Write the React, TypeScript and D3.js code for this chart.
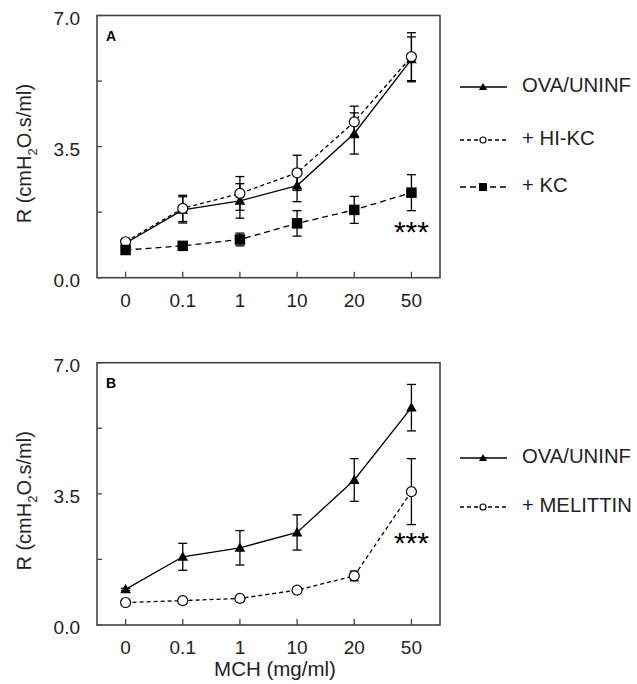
import React from "react";
import * as d3 from "d3";

const doses = ["0", "0.1", "1", "10", "20", "50"];
const yTicks = [0, 1.75, 3.5, 5.25, 7];
const yTickLabels = ["0.0", "", "3.5", "", "7.0"];

// Panel A
const aOvaMean = [0.92, 1.81, 2.05, 2.46, 3.85, 5.83];
const aOvaErr = [0.05, 0.35, 0.46, 0.43, 0.55, 0.6];
const aHiMean = [0.96, 1.85, 2.25, 2.8, 4.16, 5.9];
const aHiErr = [0.05, 0.35, 0.45, 0.47, 0.42, 0.64];
const aKcMean = [0.74, 0.85, 1.02, 1.45, 1.81, 2.27];
const aKcErr = [0.04, 0.05, 0.17, 0.34, 0.36, 0.48];

// Panel B
const bOvaMean = [0.95, 1.82, 2.06, 2.47, 3.87, 5.8];
const bOvaErr = [0.03, 0.36, 0.46, 0.47, 0.57, 0.62];
const bMelMean = [0.6, 0.65, 0.71, 0.93, 1.31, 3.56];
const bMelErr = [0.02, 0.03, 0.04, 0.05, 0.13, 0.88];

const legendA = ["OVA/UNINF", "+ HI-KC", "+ KC"];
const legendB = ["OVA/UNINF", "+ MELITTIN"];

type Series = {
  mean: number[];
  err: number[];
  marker: "tri" | "circle" | "square";
  dash: string;
  label: string;
};

const FONT = "Arial, 'Liberation Sans', sans-serif";
const FRAME = "#444";

function Marker({ type, x, y, s }: { type: string; x: number; y: number; s: number }) {
  if (type === "tri") {
    const sym = d3.symbol(d3.symbolTriangle, s * s * 0.45)();
    return <path d={sym as string} transform={`translate(${x},${y + s * 0.08})`} fill="#000" />;
  }
  if (type === "square") {
    return <rect x={x - s / 2} y={y - s / 2} width={s} height={s} fill="#000" />;
  }
  return <circle cx={x} cy={y} r={s / 2} fill="#fff" stroke="#000" strokeWidth={1.2} />;
}

function Panel({
  top,
  bottom,
  series,
  letter,
  stars,
  legendRows,
  showXTitle,
}: {
  top: number;
  bottom: number;
  series: Series[];
  letter: string;
  stars: { dose: string; value: number };
  legendRows: number[];
  showXTitle: boolean;
}) {
  const left = 97;
  const right = 440;
  const x = d3.scalePoint<string>().domain(doses).range([left, right]).padding(0.5);
  const y = d3.scaleLinear().domain([0, 7]).range([bottom, top]);
  const line = d3
    .line<number>()
    .x((_, i) => x(doses[i]) as number)
    .y((d) => y(d));
  return (
    <g>
      {series.map((s, si) =>
        s.mean.map((m, i) => {
          const cx = x(doses[i]) as number;
          const y1 = y(m + s.err[i]);
          const y2 = y(m - s.err[i]);
          return (
            <g key={`e${si}-${i}`} stroke="#000" strokeWidth={1.3}>
              <line x1={cx} x2={cx} y1={y1} y2={y2} />
              <line x1={cx - 4.5} x2={cx + 4.5} y1={y1} y2={y1} />
              <line x1={cx - 4.5} x2={cx + 4.5} y1={y2} y2={y2} />
            </g>
          );
        })
      )}
      {series.map((s, si) => (
        <path
          key={`l${si}`}
          d={line(s.mean) as string}
          fill="none"
          stroke="#000"
          strokeWidth={1.3}
          strokeDasharray={s.dash}
        />
      ))}
      {series.map((s, si) =>
        s.mean.map((m, i) => (
          <Marker key={`m${si}-${i}`} type={s.marker} x={x(doses[i]) as number} y={y(m)} s={s.marker === "circle" ? 10 : 10.5} />
        ))
      )}
      <rect x={left} y={top} width={right - left} height={bottom - top} fill="none" stroke={FRAME} strokeWidth={1.6} />
      {yTicks.map((t, i) => (
        <g key={`yt${i}`}>
          <line x1={left} x2={left + 5} y1={y(t)} y2={y(t)} stroke={FRAME} strokeWidth={1.3} />
          {yTickLabels[i] && (
            <text x={80} y={y(t) + 4} textAnchor="end" dominantBaseline="middle" fontSize={19} fontFamily={FONT} fill="#222">
              {yTickLabels[i]}
            </text>
          )}
        </g>
      ))}
      {doses.map((d) => (
        <g key={`xt${d}`}>
          <line x1={x(d) as number} x2={x(d) as number} y1={bottom} y2={bottom - 6} stroke={FRAME} strokeWidth={1.3} />
          <text x={x(d) as number} y={bottom + 29} textAnchor="middle" fontSize={19} fontFamily={FONT} fill="#222">
            {d}
          </text>
        </g>
      ))}
      <text x={111} y={top + 25} textAnchor="middle" fontSize={14} fontWeight="bold" fontFamily={FONT} fill="#000">
        {letter}
      </text>
      <text
        x={x(stars.dose) as number}
        y={y(stars.value) + 17}
        textAnchor="middle"
        fontSize={30}
        fontFamily={FONT}
        fill="#000"
      >
        ***
      </text>
      <text
        transform={`translate(31,${(top + bottom) / 2 + 7}) rotate(-90)`}
        textAnchor="middle"
        fontSize={20}
        fontFamily={FONT}
        fill="#222"
      >
        R (cmH
        <tspan fontSize={13} dy={6}>2</tspan>
        <tspan dy={-6}>O.s/ml)</tspan>
      </text>
      {showXTitle && (
        <text x={275} y={676} textAnchor="middle" fontSize={20.5} fontFamily={FONT} fill="#222">
          MCH (mg/ml)
        </text>
      )}
      {series.map((s, si) => (
        <g key={`lg${si}`}>
          <line x1={460} x2={507} y1={legendRows[si]} y2={legendRows[si]} stroke="#000" strokeWidth={1.3} strokeDasharray={s.dash} />
          <Marker type={s.marker} x={483} y={legendRows[si]} s={s.marker === "circle" ? 6 : 8} />
          <text x={522} y={legendRows[si]} dominantBaseline="middle" fontSize={20.3} fontFamily={FONT} fill="#222">
            {s.label}
          </text>
        </g>
      ))}
    </g>
  );
}

export default function App() {
  const seriesA: Series[] = [
    { mean: aOvaMean, err: aOvaErr, marker: "tri", dash: "", label: legendA[0] },
    { mean: aHiMean, err: aHiErr, marker: "circle", dash: "4,3", label: legendA[1] },
    { mean: aKcMean, err: aKcErr, marker: "square", dash: "6,4", label: legendA[2] },
  ];
  const seriesB: Series[] = [
    { mean: bOvaMean, err: bOvaErr, marker: "tri", dash: "", label: legendB[0] },
    { mean: bMelMean, err: bMelErr, marker: "circle", dash: "4,3", label: legendB[1] },
  ];
  return (
    <svg width={637} height={684} style={{ position: "absolute", left: 0, top: 0, background: "#fff" }}>
      <rect width={637} height={684} fill="#fff" />
      <Panel
        top={15.5}
        bottom={277.7}
        series={seriesA}
        letter="A"
        stars={{ dose: "50", value: 1.4 }}
        legendRows={[87, 140, 187]}
        showXTitle={false}
      />
      <Panel
        top={362.7}
        bottom={625}
        series={seriesB}
        letter="B"
        stars={{ dose: "50", value: 2.37 }}
        legendRows={[458, 507]}
        showXTitle={true}
      />
    </svg>
  );
}
